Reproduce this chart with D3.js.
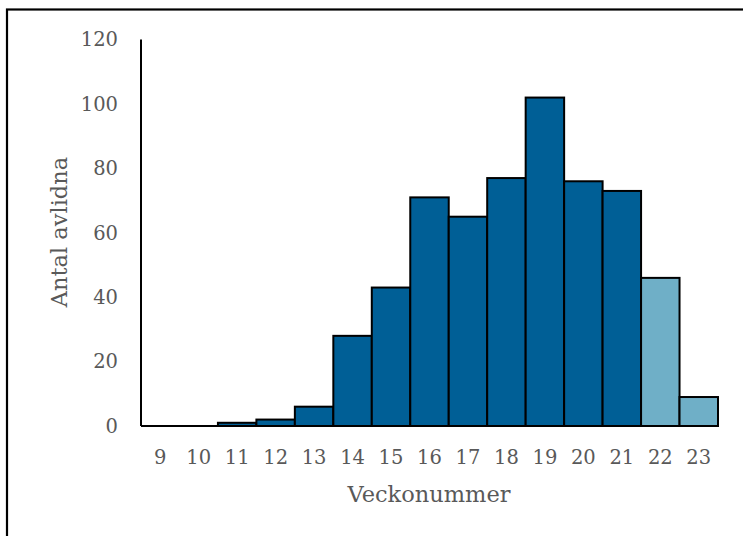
<!DOCTYPE html>
<html><head><meta charset="utf-8">
<script src="https://cdn.jsdelivr.net/npm/d3@7"></script>
<style>body{margin:0;background:#fff;} svg{display:block;}</style>
</head><body>
<script>
const weeks = ["9","10","11","12","13","14","15","16","17","18","19","20","21","22","23"];
const deaths = [0,0,1,2,6,28,43,71,65,77,102,76,73,46,9];
const preliminary = [false,false,false,false,false,false,false,false,false,false,false,false,false,true,true];
const yTicks = [0,20,40,60,80,100,120];
const xTitle = "Veckonummer";
const yTitle = "Antal avlidna";

(function(){
const W=743,H=536;
const svg=d3.select("body").append("svg").attr("width",W).attr("height",H);
svg.append("rect").attr("x",7).attr("y",9.5).attr("width",800).attr("height",600)
  .attr("fill","#fff").attr("stroke","#000").attr("stroke-width",2.2);

const pl=141,pr=718,pt=39.6,pb=426;
const x=d3.scaleBand().domain(weeks).range([pl,pr]).padding(0);
const y=d3.scaleLinear().domain([0,120]).range([pb,pt]);
const font="'DejaVu Serif', 'Liberation Serif', serif";
const tc="#595959";

svg.append("g").selectAll("rect").data(weeks).join("rect")
  .attr("x",d=>x(d)).attr("width",x.bandwidth())
  .attr("y",(d,i)=>y(deaths[i])).attr("height",(d,i)=>pb-y(deaths[i]))
  .attr("fill",(d,i)=>preliminary[i]?"#6FAFC7":"#005F96")
  .attr("stroke","#000").attr("stroke-width",2);

svg.append("line").attr("x1",pl).attr("x2",pl).attr("y1",pt).attr("y2",pb).attr("stroke","#000").attr("stroke-width",2);
svg.append("line").attr("x1",pl).attr("x2",pr).attr("y1",pb).attr("y2",pb).attr("stroke","#000").attr("stroke-width",2);

svg.append("g").selectAll("text").data(yTicks).join("text")
  .attr("x",118).attr("y",d=>y(d)).attr("dy","0.35em").attr("text-anchor","end")
  .attr("font-family",font).attr("font-size",19.5).attr("fill",tc).text(d=>d);

svg.append("g").selectAll("text").data(weeks).join("text")
  .attr("x",d=>x(d)+x.bandwidth()/2).attr("y",457).attr("dy","0.35em").attr("text-anchor","middle")
  .attr("font-family",font).attr("font-size",19.5).attr("fill",tc).text(d=>d);

svg.append("text").attr("x",429).attr("y",494).attr("dy","0.35em").attr("text-anchor","middle")
  .attr("font-family",font).attr("font-size",22.5).attr("fill",tc).text(xTitle);
svg.append("text").attr("transform","translate(59,232) rotate(-90)").attr("dy","0.35em").attr("text-anchor","middle")
  .attr("font-family",font).attr("font-size",22.5).attr("fill",tc).text(yTitle);
})();
</script>
</body></html>
